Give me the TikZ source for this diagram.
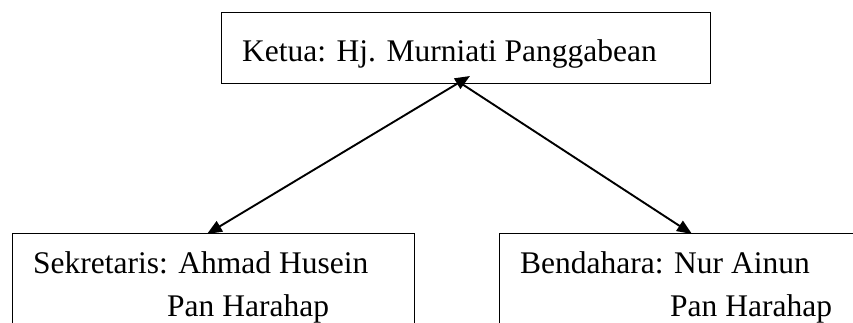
\documentclass[tikz,border=0pt]{standalone}
\usepackage{fontspec}
\setmainfont{Liberation Serif}
\usetikzlibrary{arrows.meta}
\begin{document}
\begin{tikzpicture}[x=1pt,y={(0pt,-1pt)},
  >={Triangle[length=15pt,width=12pt]},
  box/.style={draw,line width=1.2pt,inner sep=0pt,anchor=north west},
  lbl/.style={inner sep=0pt,anchor=base west,font=\fontsize{31.5}{38}\selectfont},
  link/.style={line width=1.9pt}]
\clip (0,0) rectangle (853,322);
\fill[white] (0,0) rectangle (853,322);
% boxes
\node[box,minimum width=489pt,minimum height=71pt] (ketua) at (221,12) {};
\node[box,minimum width=402pt,minimum height=120pt] (sek) at (12,233) {};
\node[box,minimum width=380pt,minimum height=120pt] (ben) at (499,233) {};
% texts
\node[lbl] (tketua) at (242,61) {Ketua: Hj. Murniati Panggabean};
\node[lbl] (tsek1) at (33,273) {Sekretaris: Ahmad Husein};
\node[lbl] (tsek2) at (167,316) {Pan Harahap};
\node[lbl] (tben1) at (520,273) {Bendahara: Nur Ainun};
\node[lbl] (tben2) at (670,316) {Pan Harahap};
% connectors
\coordinate (apex) at (470,76);
\coordinate (meet) at (462,84);
\coordinate (sektip) at (207,234);
\coordinate (bentip) at (692,234);
\draw[link,<->] (sektip) -- (apex);
\draw[link,->] (meet) -- (bentip);
\end{tikzpicture}
\end{document}
